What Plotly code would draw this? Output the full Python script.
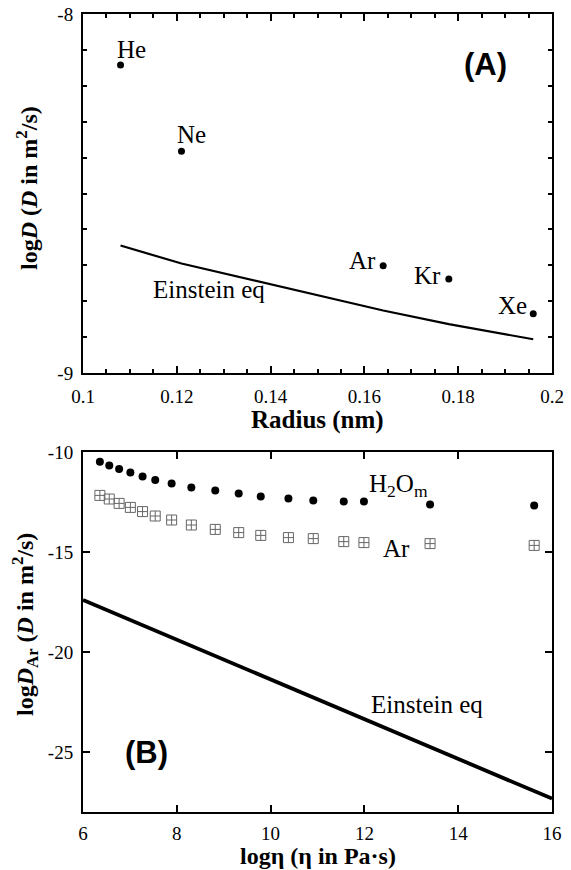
import plotly.graph_objects as go

# ---- Panel A: noble gas diffusivity vs. atomic radius ----
gas_names = ["He", "Ne", "Ar", "Kr", "Xe"]
gas_radius = [0.108, 0.121, 0.164, 0.178, 0.196]
gas_logD = [-8.142, -8.382, -8.701, -8.738, -8.835]
einstein_a_logD = [-8.645, -8.695, -8.826, -8.864, -8.906]

# ---- Panel B: diffusivity vs. melt viscosity ----
log_eta = [6.36, 6.56, 6.77, 7.01, 7.27, 7.54, 7.89, 8.31, 8.82, 9.32,
           9.79, 10.38, 10.91, 11.56, 11.99, 13.40, 15.62]
h2o_logD = [-10.49, -10.67, -10.85, -11.03, -11.22, -11.40, -11.58, -11.78, -11.93, -12.08,
            -12.23, -12.33, -12.42, -12.48, -12.48, -12.62, -12.68]
ar_logD = [-12.17, -12.35, -12.57, -12.77, -12.98, -13.20, -13.40, -13.65, -13.87, -14.03,
           -14.17, -14.28, -14.33, -14.48, -14.53, -14.58, -14.67]
einstein_b_eta = [6, 16]
einstein_b_logD = [-17.4, -27.33]

# tick labels
xa_ticks = [0.1, 0.12, 0.14, 0.16, 0.18, 0.2]
xa_text = ["0.1", "0.12", "0.14", "0.16", "0.18", "0.2"]
ya_ticks = [-9.0, -8.9, -8.8, -8.7, -8.6, -8.5, -8.4, -8.3, -8.2, -8.1, -8.0]
ya_text = ["-9", "", "", "", "", "", "", "", "", "", "-8"]
xb_ticks = [6, 8, 10, 12, 14, 16]
xb_text = ["6", "8", "10", "12", "14", "16"]
yb_ticks = [-25, -20, -15, -10]
yb_text = ["-25", "-20", "-15", "-10"]

SERIF = "Liberation Serif"
SANS = "Liberation Sans"
W, H = 571, 870

fig = go.Figure()

fig.add_trace(go.Scatter(x=gas_radius, y=einstein_a_logD, mode="lines",
                         line=dict(color="black", width=2.2),
                         xaxis="x", yaxis="y", showlegend=False))
fig.add_trace(go.Scatter(x=gas_radius, y=gas_logD, mode="markers",
                         marker=dict(color="black", size=7),
                         xaxis="x", yaxis="y", showlegend=False))
# invisible copy so the top tick axis of panel A gets drawn
fig.add_trace(go.Scatter(x=gas_radius, y=gas_logD, mode="markers",
                         marker=dict(color="rgba(0,0,0,0)", size=1),
                         hoverinfo="skip", xaxis="x3", yaxis="y", showlegend=False))

fig.add_trace(go.Scatter(x=einstein_b_eta, y=einstein_b_logD, mode="lines",
                         line=dict(color="black", width=3.8),
                         xaxis="x2", yaxis="y2", showlegend=False))
fig.add_trace(go.Scatter(x=log_eta, y=ar_logD, mode="markers",
                         marker=dict(symbol="square-cross-open", size=10,
                                     color="#666666", line=dict(width=1, color="#666666")),
                         xaxis="x2", yaxis="y2", showlegend=False))
fig.add_trace(go.Scatter(x=log_eta, y=h2o_logD, mode="markers",
                         marker=dict(color="black", size=8),
                         xaxis="x2", yaxis="y2", showlegend=False))

xdom = [83 / W, 552 / W]
ya_dom = [1 - 373 / H, 1 - 14 / H]
yb_dom = [1 - 812 / H, 1 - 452 / H]

tickfont = dict(family=SERIF, size=19, color="black")
axis_common = dict(showline=True, linewidth=2, linecolor="black", mirror="ticks",
                   ticks="inside", tickcolor="black", tickwidth=2,
                   showgrid=False, zeroline=False, automargin=False,
                   tickfont=tickfont)
minor_x = dict(dtick=0.005, tick0=0.1, ticklen=4, ticks="inside",
               tickcolor="black", tickwidth=2, showgrid=False)

fig.update_layout(
    width=W, height=H,
    margin=dict(l=0, r=0, t=0, b=0),
    paper_bgcolor="white", plot_bgcolor="white",
    font=dict(family=SERIF, color="black"),
    xaxis=dict(domain=xdom, range=[0.1, 0.2], anchor="y",
               tickvals=xa_ticks, ticktext=xa_text, ticklen=7, ticklabelstandoff=5,
               minor=minor_x, **axis_common),
    # top edge of panel A carries the same major/minor tick marks
    xaxis3=dict(domain=xdom, range=[0.1, 0.2], anchor="y", overlaying="x", side="top",
                tickvals=xa_ticks, ticklen=7, showticklabels=False, showline=False,
                ticks="inside", tickcolor="black", tickwidth=2, showgrid=False,
                zeroline=False, automargin=False, minor=minor_x),
    yaxis=dict(domain=ya_dom, range=[-9, -8], anchor="x",
               tickvals=ya_ticks, ticktext=ya_text, ticklen=4, ticklabelstandoff=4,
               **axis_common),
    xaxis2=dict(domain=xdom, range=[6, 16], anchor="y2",
                tickvals=xb_ticks, ticktext=xb_text, ticklen=7, ticklabelstandoff=3,
                **axis_common),
    yaxis2=dict(domain=yb_dom, range=[-28, -10], anchor="x2",
                tickvals=yb_ticks, ticktext=yb_text, ticklen=7, ticklabelstandoff=4,
                **axis_common),
)

ann = []


def label(text, x, y, xref, yref, size=25, family=SERIF, xanchor="center", **kw):
    ann.append(dict(text=text, x=x, y=y, xref=xref, yref=yref, showarrow=False,
                    xanchor=xanchor, yanchor="middle",
                    font=dict(family=family, size=size, color="black"), **kw))


# Panel A point labels
label("He", 0.1104, -8.098, "x", "y")
label("Ne", 0.1232, -8.336, "x", "y")
label("Ar", 0.1630, -8.686, "x", "y", xanchor="right")
label("Kr", 0.1768, -8.729, "x", "y", xanchor="right")
label("Xe", 0.1950, -8.812, "x", "y", xanchor="right")
label("Einstein eq", 0.1269, -8.768, "x", "y")
label("<b>(A)</b>", 0.1859, -8.142, "x", "y", size=31, family=SANS)

# Panel B labels
label("H<sub>2</sub>O<sub>m</sub>", 12.72, -11.70, "x2", "y2")
label("Ar", 12.69, -14.82, "x2", "y2")
label("Einstein eq", 13.33, -22.62, "x2", "y2")
label("<b>(B)</b>", 7.357, -25.02, "x2", "y2", size=31, family=SANS)

# Axis titles
label("<b>Radius (nm)</b>", 317.5 / W, 1 - 420 / H, "paper", "paper", size=25)
label("<b>log<i>D</i> (<i>D</i> in m<sup>2</sup>/s)</b>", 27 / W, 1 - 188 / H,
      "paper", "paper", size=24, textangle=-90)
label("<b>logη (η in Pa·s)</b>", 317.5 / W, 1 - 856 / H, "paper", "paper", size=24)
label("<b>log<i>D</i><sub>Ar</sub> (<i>D</i> in m<sup>2</sup>/s)</b>", 25 / W, 1 - 625 / H,
      "paper", "paper", size=24, textangle=-90)

fig.update_layout(annotations=ann)

fig.write_html("out.html")
